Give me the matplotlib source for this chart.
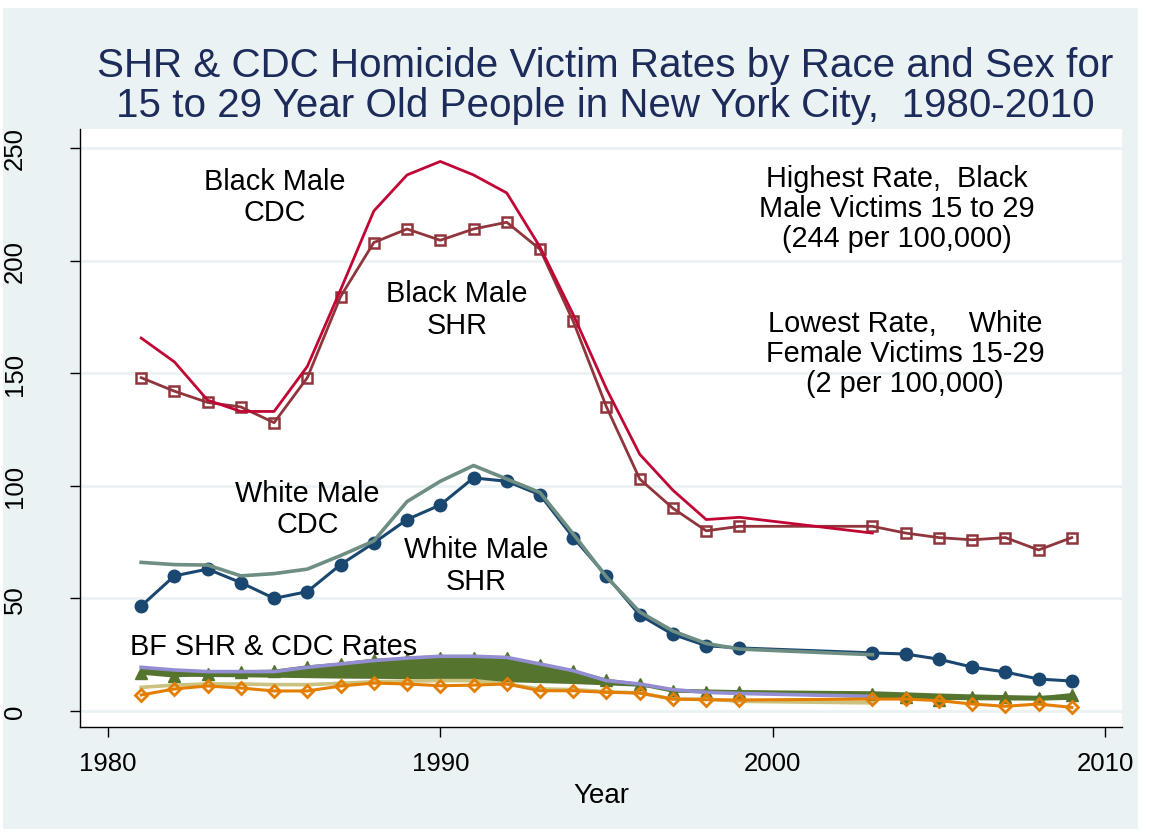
import matplotlib
matplotlib.use("Agg")
import matplotlib.pyplot as plt
from matplotlib.patches import Rectangle

plt.rcParams['font.family'] = ['Liberation Sans', 'DejaVu Sans']

years = [1981, 1982, 1983, 1984, 1985, 1986, 1987, 1988, 1989, 1990,
         1991, 1992, 1993, 1994, 1995, 1996, 1997, 1998, 1999,
         2003, 2004, 2005, 2006, 2007, 2008, 2009]
cdc_years = [1981, 1982, 1983, 1984, 1985, 1986, 1987, 1988, 1989, 1990,
             1991, 1992, 1993, 1994, 1995, 1996, 1997, 1998, 1999, 2003]

bm_shr = [148, 142, 137, 135, 128, 148, 184, 208, 214, 209,
          214, 217, 205, 173, 135, 103, 90, 80, 82,
          82, 79, 77, 76, 77, 71.5, 77]
bm_cdc = [165.6, 155, 138, 133, 133, 153, 187, 222, 238, 244,
          238, 230, 206, 176, 143, 114, 98, 85, 86, 79]

wm_shr = [46.6, 60, 63, 57, 50, 53, 65, 74.6, 85, 91.5,
          103.5, 102, 96, 77, 60, 42.6, 34, 29, 28,
          25.8, 25.3, 23, 19.5, 17.3, 14.2, 13.3]
wm_cdc = [66, 65, 64.8, 60, 61, 63, 69, 75.5, 93, 102,
          109, 103, 97, 78.6, 59.5, 44, 35.5, 30, 27.5, 25]

bf_shr = [16.8, 15.5, 16.6, 17.4, 17.7, 19.6, 20.8, 22.6, 23.0, 23.7,
          23.7, 23.6, 20.6, 17.7, 13.7, 11.8, 8.8, 8.5, 8.5,
          7.5, 6.3, 5.0, 6.2, 6.0, 5.8, 7.3]
bf_cdc = [19.4, 18.2, 17.5, 17.5, 17.5, 19.4, 20.9, 22.4, 23.5, 24.3,
          24.3, 23.8, 20.9, 17.9, 13.5, 12.0, 9.5, 8.3, 7.8, 6.5]
bf_band_high = [19.4, 18.2, 17.5, 17.5, 17.5, 19.4, 20.9, 22.4, 23.5, 24.3,
                24.3, 23.8, 20.9, 17.9, 13.5, 12.0, 10.1, 9.8, 9.5,
                9.0, 8.5, 8.0, 7.6, 7.3, 7.0, 7.3]
bf_band_low = [16.8, 15.5, 15.3, 15.2, 15.0, 14.8, 14.6, 14.5, 14.4, 14.3,
               13.6, 13.0, 12.6, 12.2, 11.6, 11.0, 9.5, 8.3, 7.8,
               6.0, 5.5, 5.2, 5.0, 4.9, 4.8, 5.2]

wf_shr = [7.1, 9.8, 11.1, 10.2, 8.9, 8.9, 11.1, 12.4, 12.0, 11.2,
          11.5, 12.0, 9.0, 9.0, 8.3, 8.0, 5.3, 5.0, 4.9,
          5.3, 5.3, 4.6, 3.1, 2.1, 3.1, 1.6]
wf_cdc = [10.5, 11.5, 12.0, 12.0, 11.7, 11.7, 12.3, 13.0, 13.3, 13.5,
          13.5, 12.0, 9.8, 9.5, 8.6, 8.0, 5.3, 5.3, 4.3, 3.6]

x_ticks = [1980, 1990, 2000, 2010]
y_ticks = [0, 50, 100, 150, 200, 250]

BG = '#eaf2f3'
W, H = 1150, 837
fig = plt.figure(figsize=(W / 100, H / 100), dpi=100, facecolor='white')
fig.patches.append(Rectangle((3 / W, 7 / H), 1135 / W, 821 / H,
                             transform=fig.transFigure, facecolor=BG,
                             edgecolor='none', zorder=-10))

ax = fig.add_axes([80 / W, 1 - 728 / H, (1122 - 80) / W, (728 - 130) / H])
ax.set_facecolor('white')

ax.plot(years, bf_shr, color='#55752f', lw=2.2, marker='^', ms=9,
        zorder=2)
ax.fill_between(years, bf_band_low, bf_band_high, color='#55752f',
                lw=0, zorder=3)
ax.plot(cdc_years, bf_cdc, color='#938dd2', lw=2.6, zorder=4)
ax.plot(cdc_years, wf_cdc, color='#cac27e', lw=2.6, zorder=4)
ax.plot(years, wf_shr, color='#e37e00', lw=2.2, marker='D', ms=6.5,
        mfc='none', mew=2.0, zorder=5)

ax.plot(years, wm_shr, color='#1a476f', lw=2.2, marker='o', ms=9,
        zorder=5)
ax.plot(cdc_years, wm_cdc, color='#6e8e84', lw=2.6, zorder=6)

ax.plot(years, bm_shr, color='#90353b', lw=2.0, marker='s', ms=7,
        mfc='none', mew=1.8, zorder=5)
ax.plot(cdc_years, bm_cdc, color='#c10534', lw=2.0, zorder=6)

ax.set_xlim(1979.16, 2010.51)
ax.set_ylim(-7.1, 258.4)
ax.set_xticks(x_ticks)
ax.set_yticks(y_ticks)
ax.set_yticklabels([str(v) for v in y_ticks], rotation=90, va='center')
ax.grid(axis='y', color=BG, lw=2, zorder=0)
ax.grid(axis='x', visible=False)
ax.set_axisbelow(True)
for s in ['top', 'right']:
    ax.spines[s].set_visible(False)
for s in ['left', 'bottom']:
    ax.spines[s].set_color('black')
    ax.spines[s].set_linewidth(1.0)
ax.tick_params(axis='y', length=7, width=1, pad=31, labelsize=18.5)
ax.tick_params(axis='x', length=7, width=1, pad=10, labelsize=18.5)
ax.set_xlabel('Year', fontsize=20, labelpad=5)

fig.text(605 / W, 1 - 86 / H,
         'SHR & CDC Homicide Victim Rates by Race and Sex for\n'
         '15 to 29 Year Old People in New York City,  1980-2010',
         ha='center', va='center', fontsize=29.1, color='#1c2b5a',
         linespacing=1.06)

fs = 20.8
ls = 1.16
ax.text(1985.03, 228.5, 'Black Male\nCDC', ha='center', va='center',
        fontsize=fs, linespacing=ls)
ax.text(1990.5, 178.5, 'Black Male\nSHR', ha='center', va='center',
        fontsize=fs, linespacing=ls)
ax.text(1986.0, 89.9, 'White Male\nCDC', ha='center', va='center',
        fontsize=fs, linespacing=ls)
ax.text(1991.07, 64.8, 'White Male\nSHR', ha='center', va='center',
        fontsize=fs, linespacing=ls)
ax.text(1980.66, 28.9, 'BF SHR & CDC Rates', ha='left', va='center',
        fontsize=fs)
ax.text(2003.74, 223.4, 'Highest Rate,  Black\nMale Victims 15 to 29\n(244 per 100,000)',
        ha='center', va='center', fontsize=fs, linespacing=1.1)
ax.text(2003.98, 159, 'Lowest Rate,    White\nFemale Victims 15-29\n(2 per 100,000)',
        ha='center', va='center', fontsize=fs, linespacing=1.1)

fig.savefig('out.png', dpi=100, facecolor='white')
